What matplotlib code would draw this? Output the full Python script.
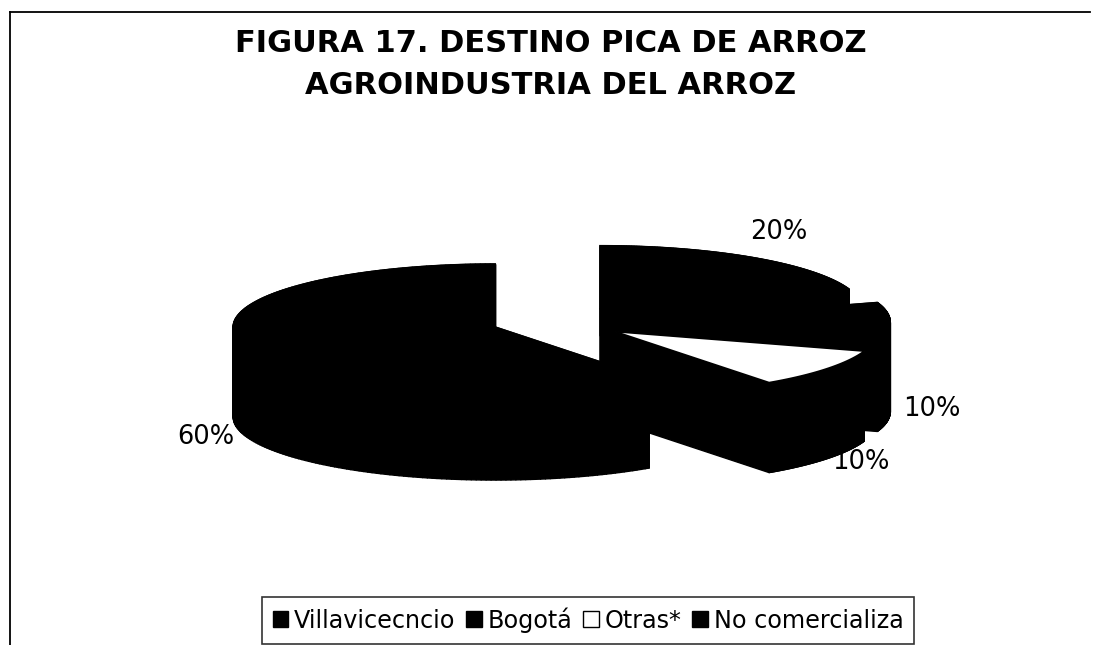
import numpy as np
import matplotlib
matplotlib.use("Agg")
import matplotlib.pyplot as plt
from matplotlib.patches import Polygon, Patch
from matplotlib.collections import PolyCollection

# ---- data ----
categories = ["Villavicecncio", "Bogotá", "Otras*", "No comercializa"]
values = [20, 10, 10, 60]
pct_labels = ["20%", "10%", "10%", "60%"]
colors = ["black", "black", "white", "black"]
title_lines = ["FIGURA 17. DESTINO PICA DE ARROZ", "AGROINDUSTRIA DEL ARROZ"]

# ---- layout (pixel coordinates) ----
W, H = 1102, 645
CX, CY = 560, 322
RX, RY = 262, 63
DEPTH = 90
EXPLODE = 0.26

fig = plt.figure(figsize=(W / 100, H / 100), dpi=100)
ax = fig.add_axes([0, 0, 1, 1])
ax.set_xlim(0, W)
ax.set_ylim(H, 0)
ax.axis("off")

# frame lines
ax.plot([10, 1090], [12, 12], color="black", lw=1.3)
ax.plot([10, 10], [12, H], color="black", lw=1.3)

vals = np.array(values, dtype=float)
fracs = vals / vals.sum()
start = 90.0
t1 = start - 360 * np.concatenate([[0], np.cumsum(fracs)[:-1]])
t2 = t1 - 360 * fracs
mids = np.radians((t1 + t2) / 2)


def rim(c, th):
    return np.column_stack([c[0] + RX * np.cos(th), c[1] - RY * np.sin(th)])


centers = []
for m in mids:
    centers.append((CX + EXPLODE * RX * np.cos(m), CY - EXPLODE * RY * np.sin(m)))

# walls (all drawn dark), then top faces
for i in range(len(vals)):
    c = centers[i]
    th = np.radians(np.linspace(t1[i], t2[i], 200))
    top = rim(c, th)
    bot = top + np.array([0, DEPTH])
    quads = [np.array([top[k], top[k + 1], bot[k + 1], bot[k]])
             for k in range(len(th) - 1)]
    for end in (0, -1):
        quads.append(np.array([c, top[end], bot[end], (c[0], c[1] + DEPTH)]))
    ax.add_collection(PolyCollection(quads, facecolors="black",
                                     edgecolors="black", linewidths=1,
                                     zorder=2))

for i in range(len(vals)):
    c = centers[i]
    th = np.radians(np.linspace(t1[i], t2[i], 200))
    top = rim(c, th)
    ax.add_patch(Polygon(np.vstack([c, top]), facecolor=colors[i],
                         edgecolor="black", lw=1.2, zorder=3))

# percentage labels
for i in range(len(vals)):
    c = centers[i]
    m = mids[i]
    s = np.sin(m)
    lx = c[0] + 1.16 * RX * np.cos(m)
    ly = c[1] - 1.16 * RY * s + (DEPTH * 0.97 if s <= 1e-9 else -0.2 * DEPTH)
    ax.text(lx, ly, pct_labels[i], ha="center", va="center",
            fontsize=18.5, color="black", zorder=5)

# title
fig.text(0.5, 1 - 43 / H, title_lines[0], ha="center", va="center",
         fontsize=22, fontweight="bold")
fig.text(0.5, 1 - 85 / H, title_lines[1], ha="center", va="center",
         fontsize=22, fontweight="bold")

# legend
handles = [Patch(facecolor=col, edgecolor="black", lw=1) for col in colors]
leg = fig.legend(handles, categories, loc="center", ncol=4,
                 bbox_to_anchor=(588 / W, 1 - 620 / H), fontsize=17.2,
                 frameon=True, fancybox=False, handlelength=0.65,
                 handleheight=0.65, handletextpad=0.25, columnspacing=0.45,
                 borderpad=0.45, borderaxespad=0)
leg.get_frame().set_edgecolor("black")
leg.get_frame().set_linewidth(1.2)

fig.savefig("out.png", dpi=100, facecolor="white")
